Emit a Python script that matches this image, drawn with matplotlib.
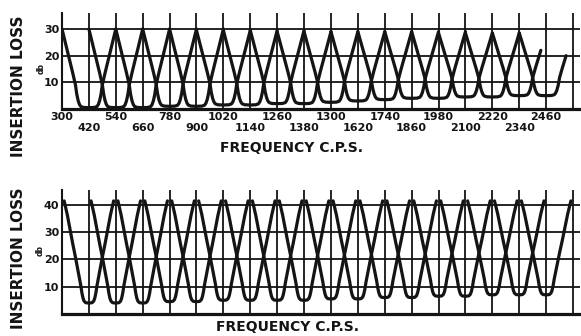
import matplotlib
matplotlib.use("Agg")
import matplotlib.pyplot as plt
import numpy as np

# ---------------- data ----------------
grid_freqs = [300, 420, 540, 660, 780, 900, 1020, 1140, 1260, 1380, 1500,
              1620, 1740, 1860, 1980, 2100, 2220, 2340, 2460, 2580]
tick_labels = ["300", "420", "540", "660", "780", "900", "1020", "1140", "1260",
               "1380", "1300", "1620", "1740", "1860", "1980", "2100", "2220",
               "2340", "2460", ""]
channels = [420, 540, 660, 780, 900, 1020, 1140, 1260, 1380, 1500,
            1620, 1740, 1860, 1980, 2100, 2220, 2340, 2460]

# upper chart: minimum loss, loss at adjacent channel, right-hand end of trace
top_min_db = [0.5, 0.5, 0.5, 1.0, 1.0, 1.5, 1.5, 2.0, 2.0, 2.5,
              3.0, 3.5, 4.0, 4.0, 4.5, 4.5, 5.0, 5.0]
top_peak_db = [30, 30, 30, 30, 30, 29.5, 29.5, 29.5, 29, 29,
               29, 29, 29, 29, 28.5, 28.5, 28.5, 28.5]
top_end_db = [30, 30, 30, 30, 30, 29.5, 29.5, 29.5, 29, 29,
              29, 29, 29, 29, 28.5, 28.5, 22, 20]
# normalised shape of one filter characteristic (offset in channel spacings)
top_prof_x = [0.0, 0.2, 0.3, 0.35, 0.4, 0.45, 0.5, 0.6, 0.7, 0.8, 0.9, 1.0]
top_prof_f = [0.0, 0.003, 0.015, 0.04, 0.09, 0.17, 0.29, 0.44, 0.58, 0.72, 0.86, 1.0]

# lower chart
bot_min_db = [4.0, 4.0, 4.0, 4.5, 4.5, 5.0, 5.0, 5.0, 5.0, 5.5,
              5.5, 6.0, 6.0, 6.5, 6.5, 7.0, 7.0, 7.0]
bot_peak_db = [41.5] * 18
bot_prof_x = [0.0, 0.12, 0.18, 0.22, 0.26, 0.3, 0.4, 0.5, 0.6, 0.7, 0.8, 0.92]
bot_prof_f = [0.0, 0.004, 0.02, 0.05, 0.1, 0.17, 0.31, 0.45, 0.58, 0.72, 0.86, 1.0]

INK = "#141414"
FONT = "DejaVu Sans"


def draw_filters(ax, mins, peaks, ends, px, pf):
    spacing = channels[1] - channels[0]
    px = np.asarray(px, float)
    pf = np.asarray(pf, float)
    for c, m, pk, e in zip(channels, mins, peaks, ends):
        loss_l = m + (pk - m) * pf
        loss_r = m + (pk - m) * pf
        if e < pk:
            xe = np.interp(e, loss_r, px)
            keep = px < xe
            xr = np.append(px[keep], xe)
            lr = np.append(loss_r[keep], e)
        else:
            xr, lr = px, loss_r
        xs = np.concatenate([-px[::-1], xr[1:]])
        ls = np.concatenate([loss_l[::-1], lr[1:]])
        ax.plot(c + xs * spacing, ls, color=INK, lw=2.3,
                solid_capstyle="round", solid_joinstyle="round", zorder=3)


def style_axes(ax, ymax, yticks, labels_on):
    ax.set_xlim(300, 2611)
    ax.set_ylim(0, ymax)
    major = grid_freqs[0::2]
    minor = grid_freqs[1::2]
    ax.set_xticks(major)
    ax.set_xticks(minor, minor=True)
    if labels_on:
        ax.set_xticklabels(tick_labels[0::2], fontsize=8, fontweight="bold",
                           family=FONT, color=INK)
        ax.set_xticklabels(tick_labels[1::2], minor=True, fontsize=8,
                           fontweight="bold", family=FONT, color=INK)
    else:
        ax.set_xticklabels([])
        ax.set_xticklabels([], minor=True)
    ax.set_yticks(yticks)
    ax.set_yticklabels([str(v) for v in yticks], fontsize=8,
                       fontweight="bold", family=FONT, color=INK)
    ax.tick_params(which="major", length=0, pad=2)
    ax.tick_params(axis="x", which="minor", length=0, pad=10)
    ax.grid(True, which="both", color=INK, lw=1.3)
    ax.grid(False, axis="y", which="minor")
    for s in ("top", "right"):
        ax.spines[s].set_visible(False)
    ax.spines["left"].set_color(INK)
    ax.spines["left"].set_linewidth(1.5)
    ax.spines["bottom"].set_color(INK)
    ax.spines["bottom"].set_linewidth(2.3)
    ax.set_facecolor("white")


W, H = 581, 336
fig = plt.figure(figsize=(W / 100, H / 100), dpi=100)
fig.patch.set_facecolor("white")

def frame(x0, y_top, x1, y_bot):
    return [x0 / W, 1 - y_bot / H, (x1 - x0) / W, (y_bot - y_top) / H]

ax1 = fig.add_axes(frame(62, 13, 580, 109))
style_axes(ax1, 36, [10, 20, 30], True)
draw_filters(ax1, top_min_db, top_peak_db, top_end_db, top_prof_x, top_prof_f)

ax2 = fig.add_axes(frame(62, 190, 580, 314))
style_axes(ax2, 45.5, [10, 20, 30, 40], False)
draw_filters(ax2, bot_min_db, bot_peak_db, bot_peak_db, bot_prof_x, bot_prof_f)

# labels
fig.text(19 / W, 1 - 86 / H, "INSERTION LOSS", rotation=90, ha="center", va="center",
         fontsize=11, fontweight="bold", family=FONT, color=INK)
fig.text(19 / W, 1 - 258 / H, "INSERTION LOSS", rotation=90, ha="center", va="center",
         fontsize=11, fontweight="bold", family=FONT, color=INK)
fig.text(41 / W, 1 - 69 / H, "db", rotation=90, ha="center", va="center",
         fontsize=5.5, fontweight="bold", family=FONT, color=INK)
fig.text(40 / W, 1 - 250 / H, "db", rotation=90, ha="center", va="center",
         fontsize=5.5, fontweight="bold", family=FONT, color=INK)
fig.text(291 / W, 1 - 148 / H, "FREQUENCY C.P.S.", ha="center", va="center",
         fontsize=10, fontweight="bold", family=FONT, color=INK)
fig.text(287 / W, 1 - 327 / H, "FREQUENCY C.P.S.", ha="center", va="center",
         fontsize=10, fontweight="bold", family=FONT, color=INK)

fig.savefig("out.png", dpi=100, facecolor="white")
